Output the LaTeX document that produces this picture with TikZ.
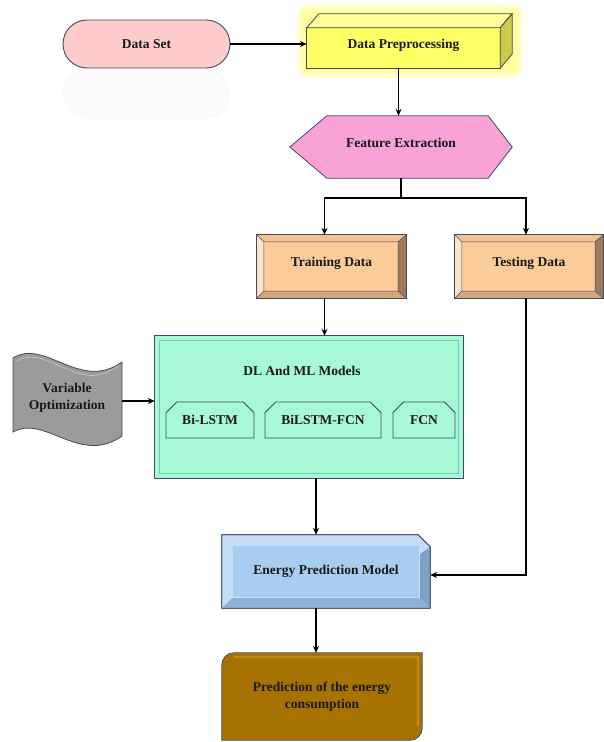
\documentclass[tikz,border=0pt]{standalone}
\usepackage{fontspec}
\setmainfont{Liberation Serif}
\usetikzlibrary{arrows.meta,calc,shapes.misc,backgrounds}
\definecolor{edge}{HTML}{3D4B68}
\definecolor{dsfill}{HTML}{FFCCCC}
\definecolor{dpfront}{HTML}{FFFF66}
\definecolor{dptop}{HTML}{FFFF99}
\definecolor{dpside}{HTML}{CCCC4C}
\definecolor{glow}{HTML}{FFFF70}
\definecolor{fefill}{HTML}{F9A2D6}
\definecolor{tdfill}{HTML}{FBCB9A}
\definecolor{tdlight}{HTML}{FFE3C8}
\definecolor{tdtop}{HTML}{F3C08E}
\definecolor{tddark}{HTML}{9E7A5A}
\definecolor{tdbottom}{HTML}{D7A676}
\definecolor{dlfill}{HTML}{A7F8D6}
\definecolor{dlline}{HTML}{6FCFA8}
\definecolor{vofill}{HTML}{9B9B9B}
\definecolor{epfill}{HTML}{A9CDF1}
\definecolor{eplight}{HTML}{C4DEF7}
\definecolor{epdark}{HTML}{7F9FC6}
\definecolor{prfill}{HTML}{A67303}
\definecolor{prlight}{HTML}{C08A14}
\begin{document}
\begin{tikzpicture}[x=1pt,y=-1pt,
  lbl/.style={font=\bfseries\fontsize{13.5}{17}\selectfont, inner sep=0pt, align=center, text=black!90},
  up/.style={text height=10pt, text depth=10pt},
  sub/.style={lbl, draw=edge, line width=0.8pt, fill=dlfill, chamfered rectangle,
    chamfered rectangle corners={north west,north east},
    chamfered rectangle xsep=6pt, chamfered rectangle ysep=6pt, minimum height=36pt},
  shp/.style={draw=edge, line width=0.8pt},
  ln/.style={line width=1.8pt},
  arr/.style={line width=1.8pt, -{Stealth[length=7pt,width=6pt]}},
]
\useasboundingbox (0,0) rectangle (604,742);

% faint reflection of Data Set
\draw[black!4, fill=black!1.5, rounded corners=24pt] (63,70) rectangle (230,118);

% nodes
\node[lbl, rounded rectangle, shp, line width=0.9pt, fill=dsfill, minimum width=167pt, minimum height=48pt] (ds) at (146.5,44) {Data Set};
\node[lbl, up, minimum width=193pt, minimum height=40pt] (dp) at (403.5,48) {Data Preprocessing};
\node[lbl, up, minimum width=222pt, minimum height=62pt] (fe) at (401,147) {Feature Extraction};
\node[lbl, up, minimum width=149pt, minimum height=63pt] (train) at (331.5,266.5) {Training Data};
\node[lbl, up, minimum width=148pt, minimum height=63pt] (test) at (529,266.5) {Testing Data};
\node[lbl, minimum width=308pt, minimum height=142pt] (dl) at (309,407) {};
\node[lbl] (dlt) at (302,371) {DL And ML Models};
\node[sub, minimum width=88pt] (m1) at (210,420) {Bi-LSTM};
\node[sub, minimum width=116pt] (m2) at (323,420) {BiLSTM-FCN};
\node[sub, minimum width=62pt] (m3) at (424,420) {FCN};
\node[lbl, minimum width=109pt, minimum height=76pt] (vo) at (67,398) {Variable\\Optimization};
\node[lbl, minimum width=208pt, minimum height=73pt] (epm) at (326,571.5) {Energy Prediction Model};
\node[lbl, minimum width=200pt, minimum height=87pt] (pred) at (322,696.5) {Prediction of the energy\\consumption};

\begin{scope}[on background layer]
  % glow around Data Preprocessing
  \foreach \g in {10,8,6,4,2}
    \fill[glow, opacity=0.22, rounded corners=\g pt] ({307-\g},{14-\g}) rectangle ({513+\g},{68+\g});
  % 3D box
  \filldraw[shp, fill=dpfront] (dp.north west) rectangle (dp.south east);
  \filldraw[shp, fill=dptop] (dp.north west) -- ++(12,-14) -- ++(193,0) -- (dp.north east) -- cycle;
  \filldraw[shp, fill=dpside] (dp.north east) -- ++(12,-14) -- ++(0,40) -- (dp.south east) -- cycle;
  % hexagon
  \filldraw[shp, fill=fefill] (fe.west) -- ([xshift=37pt]fe.north west) -- ([xshift=-24pt]fe.north east)
    -- (fe.east) -- ([xshift=-24pt]fe.south east) -- ([xshift=37pt]fe.south west) -- cycle;
  % bevelled boxes
  \foreach \n in {train,test} {
    \coordinate (iNW) at ([shift={(7pt,-7pt)}]\n.north west);
    \coordinate (iNE) at ([shift={(-8pt,-7pt)}]\n.north east);
    \coordinate (iSW) at ([shift={(7pt,7pt)}]\n.south west);
    \coordinate (iSE) at ([shift={(-8pt,7pt)}]\n.south east);
    \fill[tdfill] (iNW) rectangle (iSE);
    \fill[tdtop] (\n.north west) -- (\n.north east) -- (iNE) -- (iNW) -- cycle;
    \fill[tdlight] (\n.north west) -- (iNW) -- (iSW) -- (\n.south west) -- cycle;
    \fill[tddark] (\n.north east) -- (\n.south east) -- (iSE) -- (iNE) -- cycle;
    \fill[tdbottom] (\n.south west) -- (iSW) -- (iSE) -- (\n.south east) -- cycle;
    \draw[edge, line width=0.5pt] (\n.north west) -- (iNW) -- (iNE) -- (\n.north east)
      (iNE) -- (iSE) -- (\n.south east) (iSE) -- (iSW) -- (\n.south west) (iSW) -- (iNW);
    \draw[shp] (\n.north west) rectangle (\n.south east);
  }
  % DL box
  \filldraw[shp, fill=dlfill] (dl.north west) rectangle (dl.south east);
  \draw[dlline, line width=0.8pt] ([shift={(5pt,-5pt)}]dl.north west) rectangle ([shift={(-5pt,5pt)}]dl.south east);
  % wave
  \filldraw[shp, fill=vofill] (13,358) .. controls (45,338) and (80,392) .. (122,362)
    -- (122,436) .. controls (80,466) and (45,414) .. (13,432) -- cycle;
  \draw[black!25, line width=0.8pt] (17,361) .. controls (47,343) and (80,396) .. (118,366);
  % energy prediction model
  \filldraw[shp, fill=eplight] (epm.south west) -- (epm.north west) -- ([xshift=-12pt]epm.north east)
    -- ([yshift=-12pt]epm.north east) -- (epm.south east) -- cycle;
  \fill[epdark] ([yshift=-12pt]epm.north east) -- (epm.south east) -- ([shift={(-11pt,11pt)}]epm.south east) -- ([shift={(-11pt,-20pt)}]epm.north east) -- cycle;
  \fill[epdark!60!epfill] (epm.south west) -- ([shift={(11pt,11pt)}]epm.south west) -- ([shift={(-11pt,11pt)}]epm.south east) -- (epm.south east) -- cycle;
  \filldraw[fill=epfill, draw=eplight, line width=0.8pt] ([shift={(11pt,-11pt)}]epm.north west) rectangle ([shift={(-11pt,11pt)}]epm.south east);
  \draw[shp] (epm.south west) -- (epm.north west) -- ([xshift=-12pt]epm.north east)
    -- ([yshift=-12pt]epm.north east) -- (epm.south east) -- cycle;
  % prediction box
  \filldraw[shp, fill=prfill] (pred.south west) [rounded corners=12pt] -- (pred.north west) [sharp corners]
    -- (pred.north east) [rounded corners=12pt] -- (pred.south east) [sharp corners] -- cycle;
  \draw[prlight, line width=2pt] ([shift={(12pt,-4pt)}]pred.north west) -- ([shift={(-4pt,-4pt)}]pred.north east) -- ([shift={(-4pt,14pt)}]pred.south east);
\end{scope}

% connectors
\draw[arr] (ds.east) -- (ds.east -| dp.west);
\draw[arr] ([xshift=-5pt]dp.south) -- ([xshift=-5pt]dp.south |- fe.north);
\draw[ln] (fe.south) -- ++(0,20) coordinate (split);
\draw[arr] (split) -| ([xshift=-7pt]train.north);
\draw[arr] (split) -| ([xshift=-3pt]test.north);
\draw[arr] ([xshift=-7pt]train.south) -- ([xshift=-7pt]train.south |- dl.north);
\draw[arr] ([yshift=-3pt]vo.east) -- ([yshift=-3pt]vo.east -| dl.west);
\draw[arr] ([xshift=7pt]dl.south) -- ([xshift=7pt]dl.south |- epm.north);
\draw[arr] ([xshift=-3pt]test.south) |- ([yshift=-3.5pt]epm.east);
\draw[arr] ([xshift=-10pt]epm.south) -- ([xshift=-10pt]epm.south |- pred.north);
\end{tikzpicture}
\end{document}
